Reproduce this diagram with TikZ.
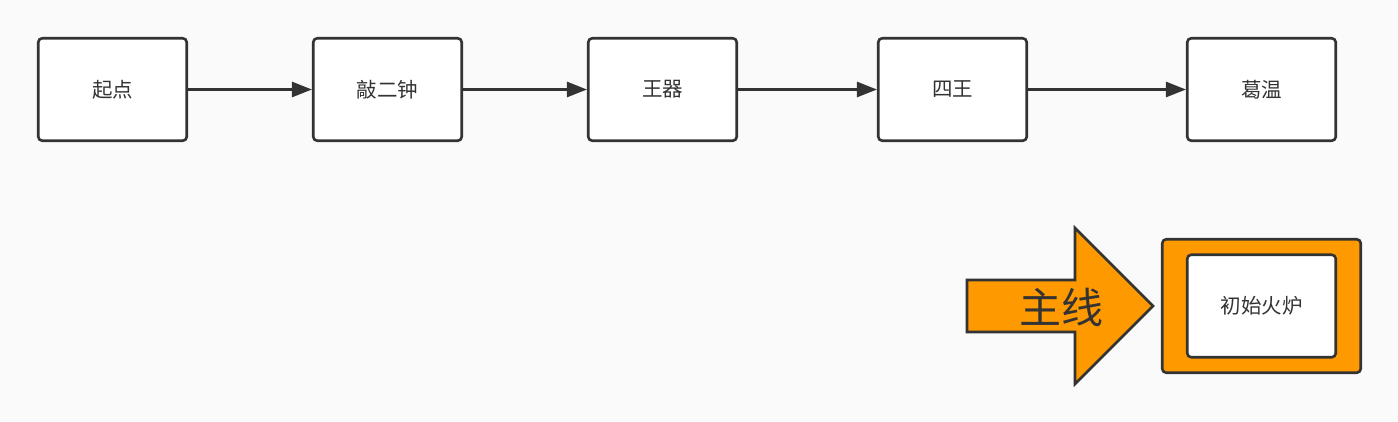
\documentclass[tikz,border=0pt]{standalone}
\usepackage{fontspec}
\setmainfont{Noto Sans CJK SC}
\usetikzlibrary{arrows.meta}
\definecolor{inkgray}{HTML}{333333}
\definecolor{pagebg}{HTML}{FAFAFA}
\definecolor{fireorange}{HTML}{FF9900}
\begin{document}
\begin{tikzpicture}[x=1pt, y=-1pt, line cap=round, line join=round, every node/.style={font=\fontsize{20.5}{22}\selectfont, text=inkgray}]
  \tikzset{flowbox/.style={draw=inkgray, fill=white, line width=2.6pt, rounded corners=4pt, minimum width=148.5pt, minimum height=102.5pt, inner sep=0pt},
    flowline/.style={draw=inkgray, line width=2.6pt, line cap=butt, -{Triangle[length=20pt, width=15pt]}}}

  % background
  \fill[pagebg] (0,0) rectangle (1398,421);
  \useasboundingbox (0,0) rectangle (1398,421);

  % top row
  \foreach \x/\n/\t in {112.5/qidian/起点,387.5/qiaoerzhong/敲二钟,662.5/wangqi/王器,952.5/siwang/四王,1261.5/gewen/葛温} {
    \node[flowbox] (\n) at (\x,89.5) {\t};
  }
  \foreach \a/\b in {qidian/qiaoerzhong,qiaoerzhong/wangqi,wangqi/siwang,siwang/gewen} {
    \draw[flowline] (\a) -- (\b);
  }

  % main line arrow
  \draw[inkgray, fill=fireorange, line width=2.6pt, line join=miter] (967,280) -- (1075,280) -- (1075,228) -- (1153,306) -- (1075,384) -- (1075,332) -- (967,332) -- cycle;
  \node[font=\fontsize{42}{46}\selectfont] (zhuxian) at (1061,307) {主线};

  % first flame
  \node[flowbox, fill=fireorange, minimum width=198.5pt, minimum height=133.5pt] (chushiframe) at (1261.5,306) {};
  \node[flowbox] (chushi) at (chushiframe) {初始火炉};
\end{tikzpicture}
\end{document}
